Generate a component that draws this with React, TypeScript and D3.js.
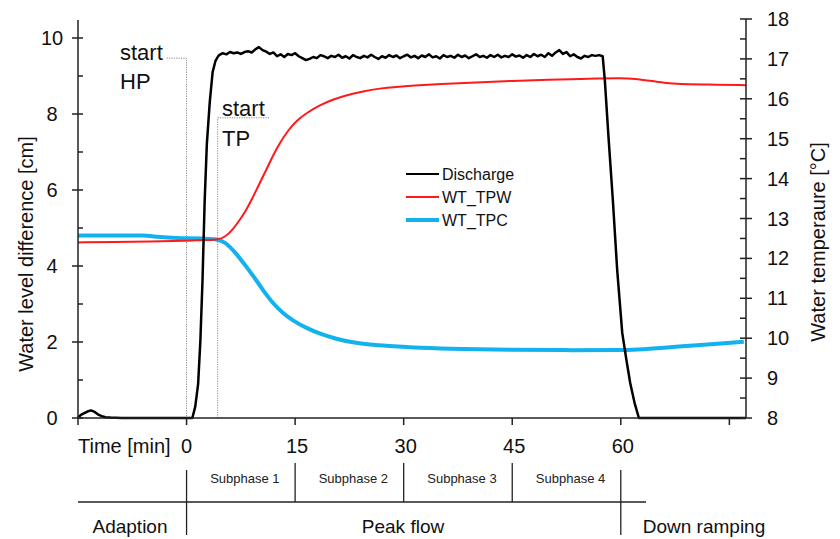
import React, { useEffect, useRef } from "react";
import * as d3 from "d3";

// discharge (water level difference, cm) — [time min, value]
const dischargeAdaption: [number, number][] = [
  [-15, 0.02], [-14.6, 0.08], [-14.2, 0.12], [-13.7, 0.17], [-13.2, 0.2], [-12.7, 0.16],
  [-12.2, 0.09], [-11.7, 0.05], [-11.2, 0.02], [-10.5, 0.01], [-9, 0], [0.8, 0],
];
const dischargeRise: [number, number][] = [
  [1.2, 0.3], [1.6, 0.9], [1.9, 2.0], [2.2, 3.6], [2.5, 5.7], [2.8, 7.2],
  [3.2, 8.3], [3.6, 9.1], [4.0, 9.4], [4.3, 9.5],
];
// plateau sampled every 0.5 min starting at 4.5 min
const plateauStart = 4.5;
const plateauStep = 0.5;
const dischargePlateau = [
  9.55, 9.6, 9.57, 9.63, 9.6, 9.62, 9.58, 9.63, 9.65, 9.62, 9.7, 9.76, 9.68, 9.64, 9.58,
  9.62, 9.52, 9.57, 9.5, 9.58, 9.55, 9.6, 9.52, 9.47, 9.42, 9.45, 9.5, 9.47, 9.55, 9.52,
  9.47, 9.53, 9.5, 9.56, 9.48, 9.52, 9.46, 9.55, 9.5, 9.47, 9.53, 9.49, 9.56, 9.5, 9.45,
  9.52, 9.48, 9.55, 9.5, 9.54, 9.47, 9.52, 9.56, 9.49, 9.53, 9.47, 9.54, 9.5, 9.57, 9.49,
  9.52, 9.46, 9.55, 9.5, 9.53, 9.48, 9.56, 9.5, 9.54, 9.47, 9.52, 9.57, 9.5, 9.53, 9.48,
  9.55, 9.5, 9.56, 9.49, 9.53, 9.5, 9.57, 9.51, 9.54, 9.48, 9.55, 9.5, 9.58, 9.52, 9.56,
  9.5, 9.6, 9.53, 9.62, 9.68, 9.58, 9.63, 9.52, 9.57, 9.5, 9.46, 9.53, 9.5, 9.55, 9.53,
  9.55, 9.52,
];
const dischargeFall: [number, number][] = [
  [57.8, 8.87], [58.3, 7.4], [58.9, 5.74], [59.5, 3.9], [60.2, 2.24], [60.8, 1.5],
  [61.3, 0.92], [61.9, 0.4], [62.5, 0], [77.3, 0],
];

// water temperature (°C)
const wtTPW: [number, number][] = [
  [-15, 12.4], [-10, 12.41], [-5, 12.42], [0, 12.44], [3, 12.46], [4.3, 12.47], [5.3, 12.53],
  [6.3, 12.7], [7.3, 12.95], [8.2, 13.2], [9, 13.47], [10, 13.85], [11.1, 14.25], [12, 14.6],
  [12.9, 14.9], [14, 15.2], [15.2, 15.46], [16.8, 15.67], [18.4, 15.84], [20.2, 15.98],
  [22.1, 16.09], [24.4, 16.19], [26.7, 16.26], [29, 16.3], [31.3, 16.33], [35, 16.37],
  [40, 16.41], [45, 16.45], [50, 16.48], [55, 16.5], [57, 16.51], [60, 16.52], [62, 16.5],
  [64, 16.45], [66, 16.4], [68, 16.37], [72, 16.36], [77.3, 16.34],
];
const wtTPC: [number, number][] = [
  [-15, 12.57], [-12, 12.58], [-9, 12.57], [-6, 12.58], [-4, 12.54], [-2, 12.52], [0, 12.5],
  [2, 12.5], [4.3, 12.48], [5.3, 12.42], [6.9, 12.12], [8.3, 11.78], [9.7, 11.44],
  [10.8, 11.14], [11.9, 10.88], [13.3, 10.63], [14.7, 10.44], [16.5, 10.26], [18.4, 10.11],
  [20.7, 9.98], [23, 9.89], [25.3, 9.84], [27.7, 9.81], [32.2, 9.76], [38, 9.73], [45, 9.71],
  [52, 9.7], [60, 9.7], [62, 9.71], [66, 9.76], [70, 9.82], [74, 9.87], [77, 9.91],
];

const xTickValues = [-15, 0, 15, 30, 45, 60, 75];
const xTickLabels = ["", "0", "15", "30", "45", "60", ""];
const leftTicks = [0, 2, 4, 6, 8, 10];
const rightTicks = [8, 9, 10, 11, 12, 13, 14, 15, 16, 17, 18];
const subphases = ["Subphase 1", "Subphase 2", "Subphase 3", "Subphase 4"];
const subphaseBounds = [0, 15, 30, 45, 60];
const phases = ["Adaption", "Peak flow", "Down ramping"];
const legendNames = ["Discharge", "WT_TPW", "WT_TPC"];
const startHP = 0;
const startTP = 4.3;

const FONT = "'Liberation Sans', Arial, sans-serif";
const AXIS = "#222";
const RED = "#ff1a1a";
const BLUE = "#12b2ee";

const App = () => {
  const svgRef = useRef<SVGSVGElement>(null);

  useEffect(() => {
    document.body.style.margin = "0";
    const svg = d3.select(svgRef.current);
    svg.selectAll("*").remove();

    const x = d3.scaleLinear().domain([-15, 77.3]).range([78, 746]);
    const yL = d3.scaleLinear().domain([0, 10]).range([418, 38]);
    const yR = d3.scaleLinear().domain([8, 18]).range([418, 19]);

    const plateau: [number, number][] = dischargePlateau.map((v, i) => [plateauStart + i * plateauStep, v]);
    const discharge = [...dischargeAdaption, ...dischargeRise, ...plateau, ...dischargeFall];

    // dotted start markers
    const dot = svg.append("g").attr("fill", "none").attr("stroke", "#8a8a8a").attr("stroke-width", 1).attr("stroke-dasharray", "1.2,1.2");
    dot.append("path").attr("d", `M${x(startHP) - 20},${yL(9.47)}H${x(startHP)}V${yL(0)}`);
    dot.append("path").attr("d", `M${x(startTP)},${yL(0)}V${yL(7.9)}H${x(startTP) + 52}`);

    const txt = svg.append("g").attr("font-family", FONT).attr("fill", "#111");
    txt.append("text").attr("x", 120).attr("y", 60).attr("font-size", 22).text("start");
    txt.append("text").attr("x", 120).attr("y", 89).attr("font-size", 22).text("HP");
    txt.append("text").attr("x", 222).attr("y", 116).attr("font-size", 22).text("start");
    txt.append("text").attr("x", 222).attr("y", 146).attr("font-size", 22).text("TP");

    // series
    const lineL = d3.line<[number, number]>().x((d) => x(d[0])).y((d) => yL(d[1]));
    const lineR = d3.line<[number, number]>().x((d) => x(d[0])).y((d) => yR(d[1])).curve(d3.curveBasis);

    svg.append("path").attr("d", lineR(wtTPC)).attr("fill", "none").attr("stroke", BLUE).attr("stroke-width", 4);
    svg.append("path").attr("d", lineR(wtTPW)).attr("fill", "none").attr("stroke", RED).attr("stroke-width", 2);
    svg.append("path").attr("d", lineL(discharge)).attr("fill", "none").attr("stroke", "#000").attr("stroke-width", 2.5).attr("stroke-linejoin", "round");

    // axes
    const ax = svg.append("g").attr("stroke", AXIS).attr("stroke-width", 1.5);
    ax.append("line").attr("x1", 78).attr("x2", 78).attr("y1", 20).attr("y2", 418);
    ax.append("line").attr("x1", 746).attr("x2", 746).attr("y1", yR(18)).attr("y2", 418);
    ax.append("line").attr("x1", 78).attr("x2", 746).attr("y1", 418).attr("y2", 418);
    d3.range(0, 11).forEach((v) => {
      const major = v % 2 === 0;
      ax.append("line").attr("x1", major ? 72 : 78).attr("x2", 83).attr("y1", yL(v)).attr("y2", yL(v));
    });
    d3.range(8, 18.01, 0.5).forEach((v) => {
      const major = Number.isInteger(v);
      ax.append("line").attr("x1", 740).attr("x2", major ? 752 : 746).attr("y1", yR(v)).attr("y2", yR(v));
    });
    xTickValues.forEach((v) => {
      ax.append("line").attr("x1", x(v)).attr("x2", x(v)).attr("y1", 418).attr("y2", 425);
    });

    const lab = svg.append("g").attr("font-family", FONT).attr("fill", "#111").attr("font-size", 20);
    leftTicks.forEach((v) => {
      lab.append("text").attr("x", 52).attr("y", yL(v)).attr("dy", "0.35em").attr("text-anchor", "middle").text(v);
    });
    rightTicks.forEach((v) => {
      lab.append("text").attr("x", 767).attr("y", yR(v)).attr("dy", "0.35em").text(v);
    });
    xTickValues.forEach((v, i) => {
      lab.append("text").attr("x", x(v) + (v > 0 ? 2 : 0)).attr("y", 453).attr("text-anchor", "middle").text(xTickLabels[i]);
    });
    lab.append("text").attr("x", 78).attr("y", 453).text("Time [min]");
    lab.append("text").attr("transform", "translate(33,254) rotate(-90)").attr("text-anchor", "middle").text("Water level difference [cm]");
    lab.append("text").attr("transform", "translate(825,242) rotate(-90)").attr("text-anchor", "middle").text("Water temperaure [°C]");

    // legend
    const legColors = ["#000", RED, BLUE];
    const legWidths = [2.2, 2, 4];
    legendNames.forEach((n, i) => {
      const yy = 174 + i * 23;
      svg.append("line").attr("x1", 406).attr("x2", 439).attr("y1", yy).attr("y2", yy).attr("stroke", legColors[i]).attr("stroke-width", legWidths[i]);
      svg.append("text").attr("x", 442).attr("y", yy).attr("dy", "0.36em").attr("font-family", FONT).attr("font-size", 16).attr("fill", "#111").text(n);
    });

    // phase table
    const tb = svg.append("g").attr("stroke", AXIS).attr("stroke-width", 1.3);
    tb.append("line").attr("x1", 78).attr("x2", 646).attr("y1", 502).attr("y2", 502);
    tb.append("line").attr("x1", x(0)).attr("x2", x(0)).attr("y1", 470).attr("y2", 535);
    tb.append("line").attr("x1", x(60)).attr("x2", x(60)).attr("y1", 470).attr("y2", 535);
    subphaseBounds.slice(1, 4).forEach((b) => {
      tb.append("line").attr("x1", x(b)).attr("x2", x(b)).attr("y1", 463).attr("y2", 502);
    });
    subphases.forEach((s, i) => {
      svg.append("text").attr("x", (x(subphaseBounds[i]) + x(subphaseBounds[i + 1])) / 2 + 4).attr("y", 483)
        .attr("text-anchor", "middle").attr("font-family", FONT).attr("font-size", 13).attr("fill", "#222").text(s);
    });
    const phaseX = [130, 403, 704];
    phases.forEach((p, i) => {
      svg.append("text").attr("x", phaseX[i]).attr("y", 533).attr("text-anchor", "middle")
        .attr("font-family", FONT).attr("font-size", 19).attr("fill", "#111").text(p);
    });
  }, []);

  return <svg ref={svgRef} width={840} height={539} style={{ display: "block", background: "#fff" }} />;
};

export default App;
